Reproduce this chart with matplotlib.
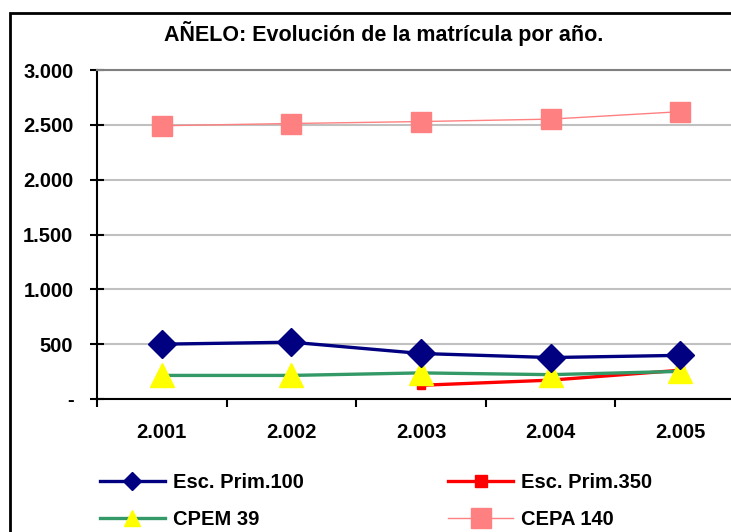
import matplotlib
matplotlib.use("Agg")
import matplotlib.pyplot as plt
from matplotlib.patches import Rectangle
from matplotlib.lines import Line2D
from matplotlib.ticker import FuncFormatter
import numpy as np

plt.rcParams['font.family'] = ['Liberation Sans', 'DejaVu Sans']
plt.rcParams['font.weight'] = 'bold'

# matricula por establecimiento, 2001-2005
years = ["2.001", "2.002", "2.003", "2.004", "2.005"]
esc_prim_100 = [500, 518, 415, 378, 398]
esc_prim_350 = [None, None, 125, 172, 262]
cpem_39 = [215, 215, 238, 222, 252]
cepa_140 = [2492, 2512, 2530, 2552, 2620]


def miles(v, pos):
    if v == 0:
        return "-"
    return "{:,.0f}".format(v).replace(",", ".")


fig = plt.figure(figsize=(7.31, 5.32), dpi=100)
ax = fig.add_axes([97/731, 1 - 399/532, 648/731, 329/532])

x = np.arange(len(years))
p350 = np.array([np.nan if v is None else v for v in esc_prim_350], dtype=float)

estilos = [
    dict(color='#000080', lw=2.4, marker='D', mfc='#000080', mec='#000080'),
    dict(color='#FF0000', lw=2.4, marker='s', mfc='#FF0000', mec='#FF0000'),
    dict(color='#339966', lw=2.4, marker='^', mfc='#FFFF00', mec='#FFFF00'),
    dict(color='#FF8080', lw=1.0, marker='s', mfc='#FF8080', mec='#FF8080'),
]
nombres = ['Esc. Prim.100', 'Esc. Prim.350', 'CPEM 39', 'CEPA 140']
series = [esc_prim_100, p350, cpem_39, cepa_140]
tam = [14, 6, 17, 14]          # marcadores en el grafico
tam_ley = [9, 8, 11, 14]       # marcadores en la leyenda
orden_z = [5, 3, 4, 4]

for est, y, ms, z in zip(estilos, series, tam, orden_z):
    ax.plot(x, y, ms=ms, zorder=z, **est)

ax.set_xlim(-0.5, len(years) - 0.5)
ax.set_ylim(0, 3000)
ax.set_yticks(np.arange(0, 3001, 500))
ax.yaxis.set_major_formatter(FuncFormatter(miles))
ax.yaxis.grid(True, color='#c0c0c0', lw=1.5)
ax.set_axisbelow(True)

ax.set_xticks(x)
ax.set_xticklabels(years)
ax.set_xticks(np.arange(len(years) + 1) - 0.5, minor=True)
ax.tick_params(axis='x', which='major', length=0, pad=17, labelsize=14.5)
ax.tick_params(axis='x', which='minor', length=6, width=1.5, direction='out')
ax.tick_params(axis='y', length=10, width=1.5, direction='inout', pad=12, labelsize=14.5)

for s in ['left', 'bottom']:
    ax.spines[s].set_linewidth(1.5)
    ax.spines[s].set_color('black')
ax.spines['top'].set_color('#808080')
ax.spines['top'].set_linewidth(1.5)
ax.spines['right'].set_visible(False)

fig.text(384/731, 1 - 33/532, "AÑELO: Evolución de la matrícula por año.",
         ha='center', va='center', fontsize=15.5, fontweight='bold')

# marco del grafico
fig.add_artist(Rectangle((10/731, -0.1), 1.2, 1.1 - 13/532, transform=fig.transFigure,
                         fill=False, lw=2, edgecolor='black'))

# leyenda en dos columnas, llenada por filas
handles = [Line2D([], [], ms=m, **e) for e, m in zip(estilos, tam_ley)]
idx = [0, 2, 1, 3]
fig.legend([handles[i] for i in idx], [nombres[i] for i in idx],
           loc='upper left', bbox_to_anchor=(88/731, 1 - 461/532), ncol=2, frameon=False,
           fontsize=14.5, handlelength=3.2, handletextpad=0.4, columnspacing=7.2,
           labelspacing=0.9, borderaxespad=0.2)

fig.savefig("out.png", dpi=100)
